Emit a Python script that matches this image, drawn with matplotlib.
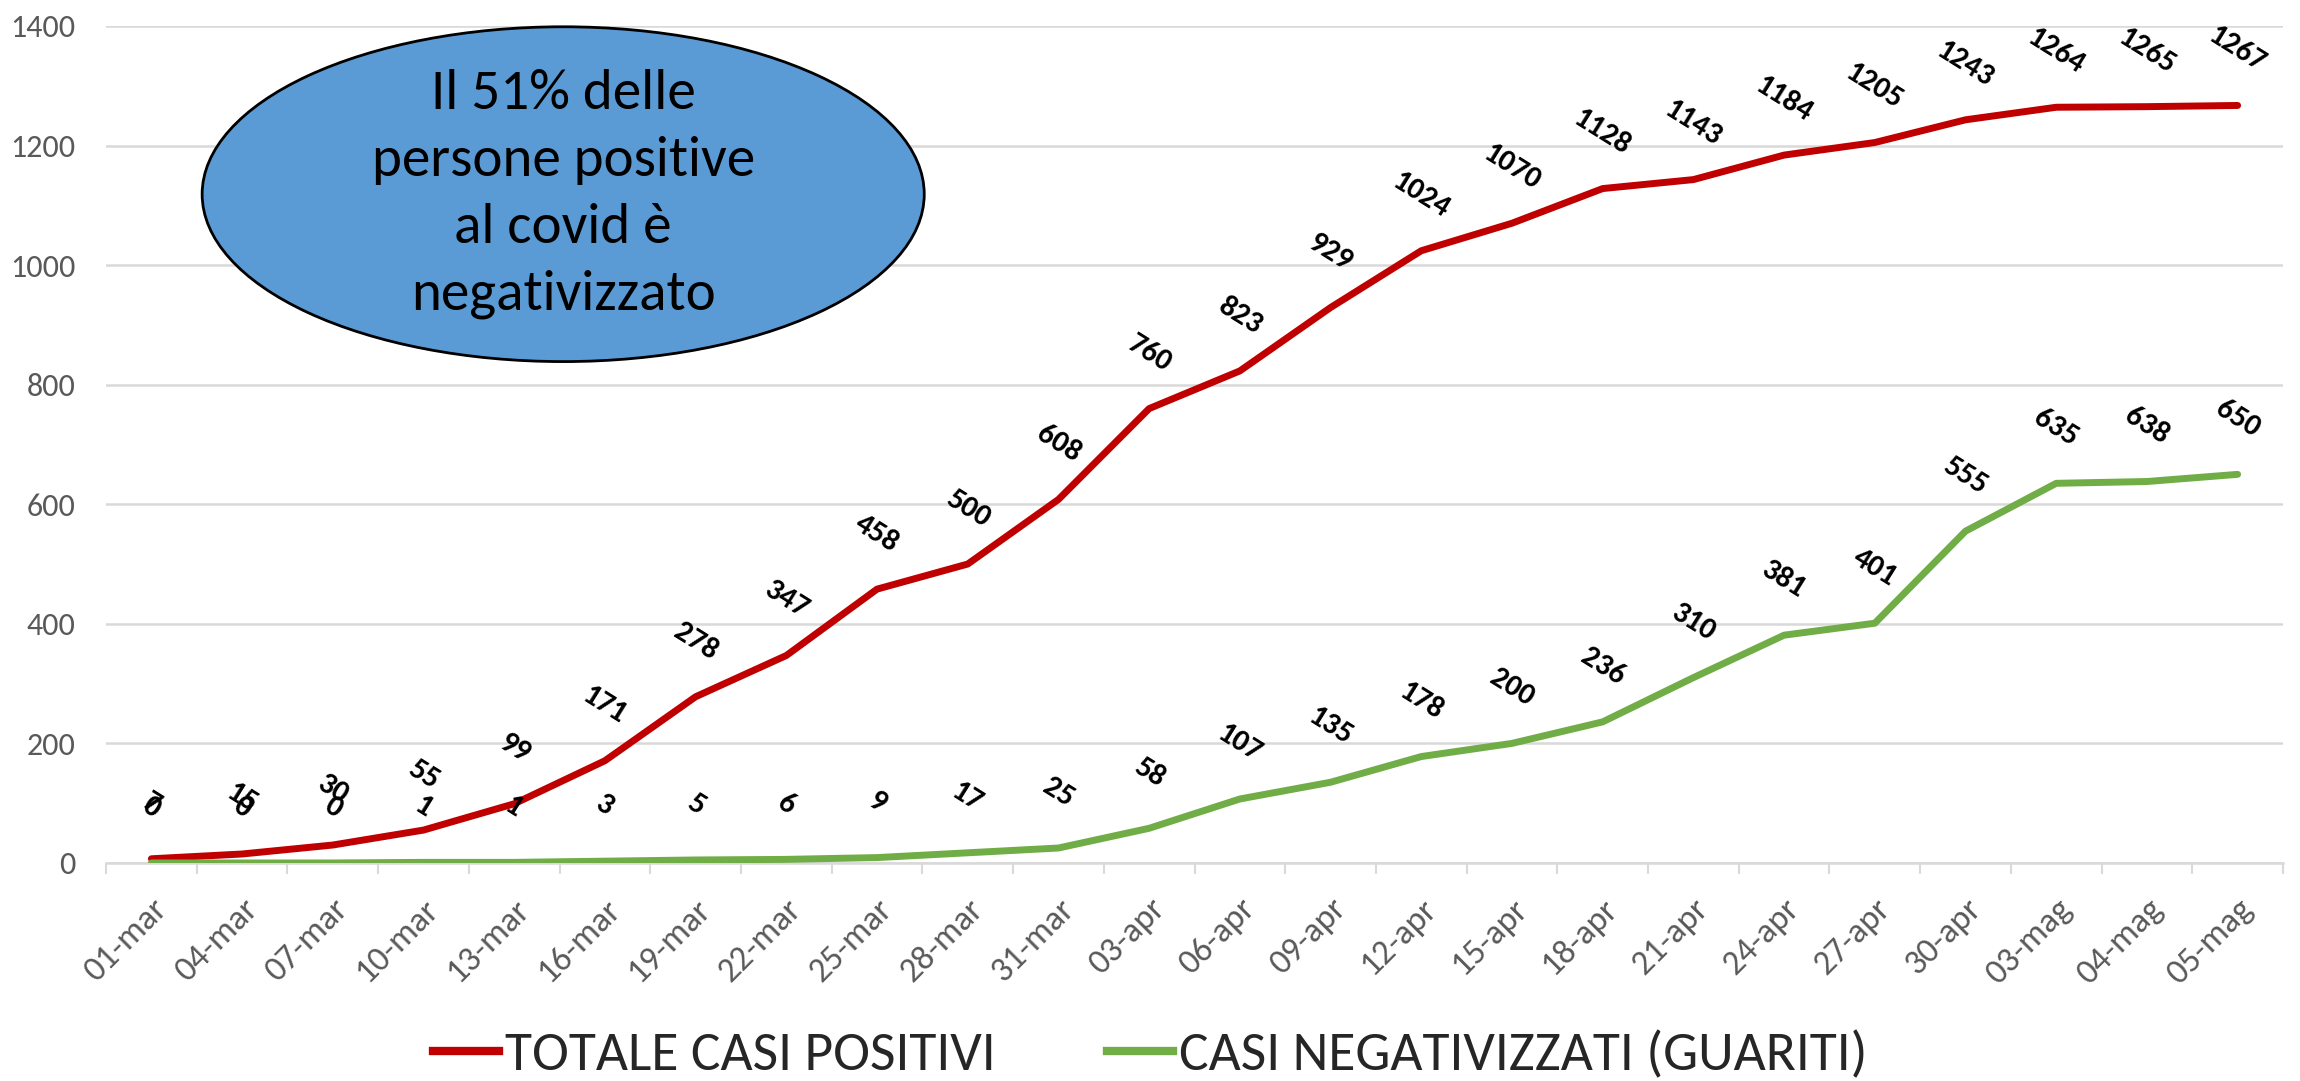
import numpy as np
import matplotlib
matplotlib.use("Agg")
import matplotlib.pyplot as plt
from matplotlib import font_manager
from matplotlib.patches import Ellipse
from matplotlib.lines import Line2D

names = {f.name for f in font_manager.fontManager.ttflist}


def pick(*cands):
    for c in cands:
        if c in names:
            return c
    return 'DejaVu Sans'


body = pick('Carlito', 'Lato', 'Open Sans')
narrow = pick('Liberation Sans Narrow', 'Carlito', 'Lato')

dates = ['01-mar', '04-mar', '07-mar', '10-mar', '13-mar', '16-mar', '19-mar',
         '22-mar', '25-mar', '28-mar', '31-mar', '03-apr', '06-apr', '09-apr',
         '12-apr', '15-apr', '18-apr', '21-apr', '24-apr', '27-apr', '30-apr',
         '03-mag', '04-mag', '05-mag']
totale = [7, 15, 30, 55, 99, 171, 278, 347, 458, 500, 608, 760, 823, 929,
          1024, 1070, 1128, 1143, 1184, 1205, 1243, 1264, 1265, 1267]
guariti = [0, 0, 0, 1, 1, 3, 5, 6, 9, 17, 25, 58, 107, 135,
           178, 200, 236, 310, 381, 401, 555, 635, 638, 650]
serie = ['TOTALE CASI POSITIVI', 'CASI NEGATIVIZZATI (GUARITI)']
colori = ['#C00000', '#70AD47']
nota = 'Il 51% delle\npersone positive\nal covid è\nnegativizzato'

fig = plt.figure(figsize=(23, 10.81), dpi=100)
ax = fig.add_axes([0.0461, 0.2017, 0.9465, 0.7743])

x = np.arange(len(dates))
for vals, col in zip([totale, guariti], colori):
    ax.plot(x, vals, color=col, lw=5, solid_capstyle='round', zorder=3)
    for xi, v in zip(x, vals):
        ax.annotate(str(v), (xi, v), xytext=(0, 40), textcoords='offset points',
                    ha='center', va='center', rotation=-32, fontsize=22,
                    fontweight='bold', fontfamily=body, color='black', zorder=4)

ax.set_xlim(-0.5, len(dates) - 0.5)
ax.set_ylim(0, 1400)
ax.set_yticks(np.arange(0, 1401, 200))
ax.yaxis.grid(True, color='#D9D9D9', lw=1.8)
ax.set_axisbelow(True)
for s in ['top', 'right', 'left']:
    ax.spines[s].set_visible(False)
ax.spines['bottom'].set_color('#D9D9D9')
ax.spines['bottom'].set_linewidth(1.8)

ax.set_xticks(x)
ax.set_xticklabels(dates, rotation=45, ha='right', rotation_mode='anchor')
ax.set_xticks(np.arange(-0.5, len(dates), 1), minor=True)
ax.tick_params(axis='x', which='major', length=0, pad=22, labelsize=25,
               labelcolor='#595959')
ax.tick_params(axis='x', which='minor', length=8, width=1.5, color='#D9D9D9',
               direction='out')
ax.tick_params(axis='y', length=0, pad=22, labelsize=23, labelcolor='#595959')
for lab in ax.get_xticklabels() + ax.get_yticklabels():
    lab.set_fontfamily(body)

ax.add_patch(Ellipse((0.21, 0.799), 0.3317, 0.400, transform=ax.transAxes,
                     facecolor='#5B9BD5', edgecolor='black', lw=2, zorder=5,
                     clip_on=False))
ax.text(0.21, 0.799, nota, transform=ax.transAxes, ha='center', va='center',
        fontsize=41, fontfamily=body, color='black', linespacing=1.45, zorder=6)

handles = [Line2D([], [], color=c, lw=6) for c in colori]
fig.legend(handles, serie, loc='center', bbox_to_anchor=(0.5, 0.024), ncol=2,
           frameon=False, handlelength=1.2, handletextpad=0.1, columnspacing=2.0,
           prop={'family': narrow, 'size': 40}, labelcolor='#262626')

fig.savefig('out.png', dpi=100)
